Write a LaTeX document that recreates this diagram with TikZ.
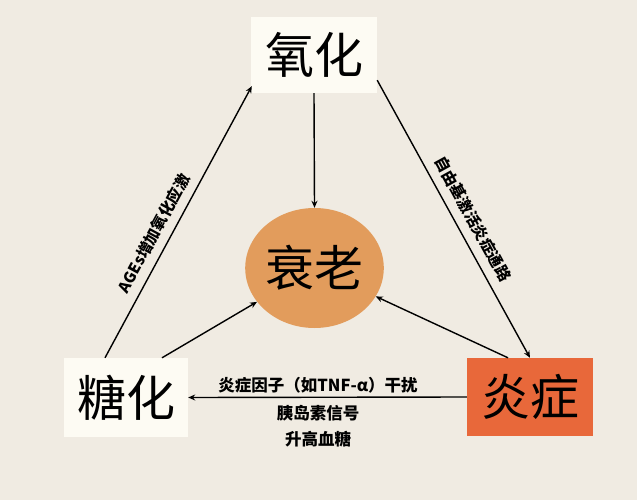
\documentclass[tikz,border=0pt]{standalone}
\usepackage{fontspec}
\setmainfont{Noto Sans CJK SC}
\newfontfamily\cjk{Noto Sans CJK SC}
\usetikzlibrary{arrows.meta,shapes.geometric}
\definecolor{bgc}{RGB}{240,235,226}
\definecolor{boxc}{RGB}{253,251,243}
\definecolor{circc}{RGB}{226,156,92}
\definecolor{inflc}{RGB}{232,104,58}
\tikzset{
  bigbox/.style={rectangle, inner sep=0pt, font=\cjk\fontsize{49}{49}\selectfont},
  conn/.style={line width=1.4pt, -{Stealth[length=7pt,width=6pt]}},
  lbl/.style={font=\cjk\bfseries\fontsize{15.5}{16}\selectfont, inner sep=0pt},
  blbl/.style={font=\cjk\bfseries\fontsize{16.5}{17}\selectfont, inner sep=0pt}
}
\begin{document}
\begin{tikzpicture}[x=1pt,y=-1pt]
\fill[bgc] (0,0) rectangle (637,500);
\useasboundingbox (0,0) rectangle (637,500);
\node[bigbox, fill=boxc, minimum width=126pt, minimum height=76pt] (yang) at (314,55) {氧化};
\node[bigbox, fill=boxc, minimum width=124pt, minimum height=79pt] (tang) at (126,397.5) {糖化};
\node[bigbox, fill=inflc, minimum width=126pt, minimum height=78pt] (yan) at (530,397) {炎症};
\node[ellipse, fill=circc, minimum width=135pt, minimum height=120pt, inner sep=0pt, font=\cjk\fontsize{49}{49}\selectfont] (shuai) at (314.5,268) {衰老};
% connectors
\draw[conn] ([xshift=-21pt]tang.north) -- node[lbl, pos=0.43, sloped, above=8pt] {AGEs增加氧化应激} ([shift={(1pt,7pt)}]yang.south west);
\draw[conn] (yang.south) -- (shuai.north);
\draw[conn] ([yshift=13pt]yang.south east) -- node[lbl, pos=0.53, sloped, above=9pt] {自由基激活炎症通路} (yan.north);
\draw[conn] ([xshift=-22pt]yan.north) -- (shuai);
\draw[conn] ([xshift=36pt]tang.north) -- (shuai);
\draw[conn] (yan.west) -- (tang.east);
\node[blbl] (l1) at (318,385) {炎症因子（如TNF-α）干扰};
\node[blbl] (l2) at (318,413) {胰岛素信号};
\node[blbl] (l3) at (318,439) {升高血糖};
\end{tikzpicture}
\end{document}
